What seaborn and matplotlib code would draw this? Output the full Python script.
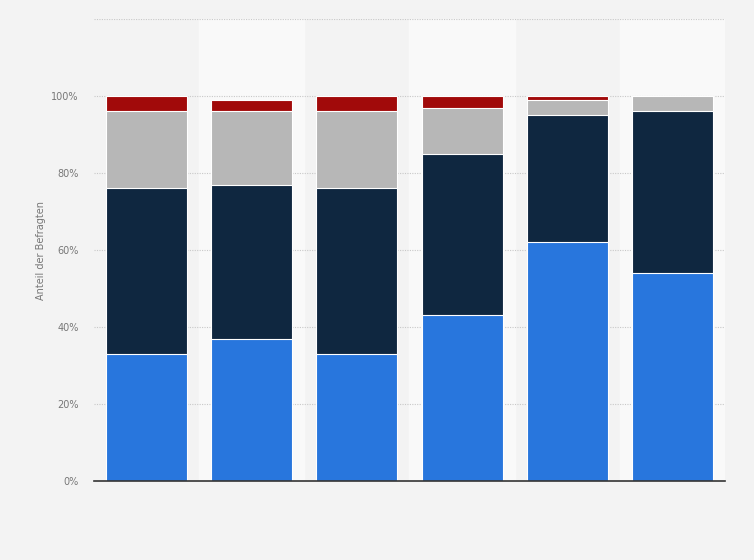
import numpy as np
import pandas as pd
import seaborn as sns
import matplotlib.pyplot as plt

sns.set_theme(style="white")
plt.rcParams['font.family'] = ['DejaVu Sans']

# Werte in Prozent, von unten nach oben gestapelt
gruppen = ['1', '2', '3', '4', '5', '6']
blau = [33, 37, 33, 43, 62, 54]
dunkelblau = [43, 40, 43, 42, 33, 42]
grau = [20, 19, 20, 12, 4, 4]
rot = [4, 3, 4, 3, 1, 0]
y_ticks = [0, 20, 40, 60, 80, 100, 120]
y_labels = ['0%', '20%', '40%', '60%', '80%', '100%', '']

layers = [blau, dunkelblau, grau, rot]
colors = ['#2876dd', '#0f2740', '#b7b7b7', '#a10a0a']

bg = '#f3f3f3'
fig = plt.figure(figsize=(7.54, 5.6), dpi=100, facecolor=bg)
ax = fig.add_axes([0.1247, 0.1411, 0.8368, 0.8249])
ax.set_facecolor(bg)

for i in range(len(gruppen)):
    if i % 2 == 1:
        ax.axvspan(i - 0.5, i + 0.5, color='#f9f9f9', zorder=0)

cum = np.cumsum(np.array(layers), axis=0)
df = pd.DataFrame({'gruppe': gruppen})
for k in range(len(layers) - 1, -1, -1):
    df['wert'] = cum[k]
    sns.barplot(data=df, x='gruppe', y='wert', color=colors[k], width=0.77,
                saturation=1, edgecolor='white', linewidth=0.8, ax=ax, zorder=3)

ax.set_xlim(-0.5, 5.5)
ax.set_ylim(0, 120)
ax.set_yticks(y_ticks)
ax.set_yticklabels(y_labels, fontsize=7, color='#777777')
ax.set_xticks([])
ax.set_xlabel('')
ax.set_ylabel('Anteil der Befragten', fontsize=7, color='#777777', labelpad=4)
for y in y_ticks[1:]:
    ax.axhline(y, color='#c8c8c8', linestyle=(0, (1, 1.2)), linewidth=0.8, zorder=1)
ax.tick_params(axis='y', length=0, pad=11)
for s in ['left', 'right', 'top']:
    ax.spines[s].set_visible(False)
ax.spines['bottom'].set_color('#333333')
ax.spines['bottom'].set_linewidth(1.2)
ax.spines['bottom'].set_zorder(5)

fig.savefig('out.png', dpi=100, facecolor=bg)
